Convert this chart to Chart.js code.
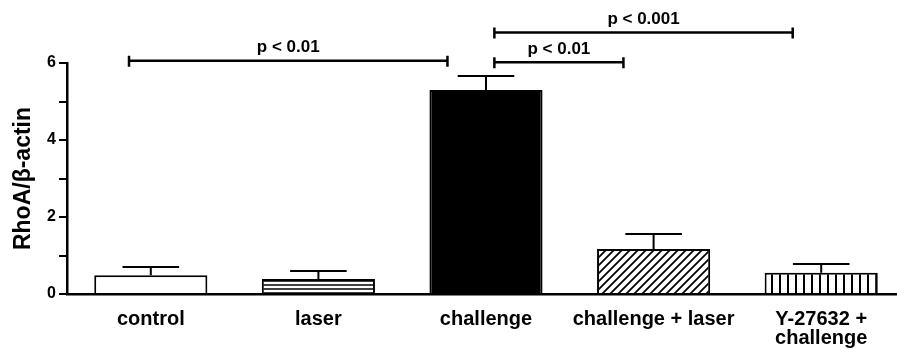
<!DOCTYPE html>
<html>
<head>
    <title>RhoA/β-actin</title>
    <style>
        body { margin: 0; padding: 0; overflow: hidden; background: #fff; }
        #chartBox { width: 907px; height: 350px; }
    </style>
    <script src="https://cdn.jsdelivr.net/npm/chart.js"></script>
</head>
<body>
    <div id="chartBox">
        <canvas id="rhoaChart" width="907" height="350"></canvas>
    </div>

    <script>
        const categories = ['control', 'laser', 'challenge', 'challenge + laser', ['Y-27632 +', 'challenge']];
        const meanValues = [0.49, 0.39, 5.30, 1.17, 0.55];
        const semValues = [0.21, 0.21, 0.36, 0.39, 0.23];

        // significance brackets (category index positions, y level in data units)
        const bracketFrom = [-0.13, 2.05, 2.05];
        const bracketTo = [1.77, 2.82, 3.83];
        const bracketLevel = [6.06, 6.02, 6.79];
        const bracketLabels = ['p < 0.01', 'p < 0.01', 'p < 0.001'];

        const fontFamily = "'Liberation Sans', Arial, sans-serif";

        function makePattern(kind) {
            const c = document.createElement('canvas');
            const size = kind === 'horizontal' ? 4 : 8;
            c.width = size;
            c.height = size;
            const g = c.getContext('2d');
            g.fillStyle = '#fff';
            g.fillRect(0, 0, size, size);
            g.strokeStyle = '#000';
            if (kind === 'horizontal') {
                g.lineWidth = 1.5;
                g.beginPath();
                g.moveTo(0, 1);
                g.lineTo(size, 1);
                g.stroke();
            } else if (kind === 'vertical') {
                g.lineWidth = 2;
                g.beginPath();
                g.moveTo(4, 0);
                g.lineTo(4, size);
                g.stroke();
            } else {
                g.lineWidth = 1.8;
                g.beginPath();
                g.moveTo(-1, size + 1);
                g.lineTo(size + 1, -1);
                g.moveTo(-1, 1);
                g.lineTo(1, -1);
                g.moveTo(size - 1, size + 1);
                g.lineTo(size + 1, size - 1);
                g.stroke();
            }
            return g.createPattern(c, 'repeat');
        }

        const barFills = ['#fff', makePattern('horizontal'), '#000', makePattern('diagonal'), makePattern('vertical')];

        const errorBarPlugin = {
            id: 'errorBars',
            afterDatasetsDraw(chart) {
                const ctx = chart.ctx;
                const yScale = chart.scales.y;
                const meta = chart.getDatasetMeta(0);
                ctx.save();
                ctx.strokeStyle = '#000';
                ctx.lineWidth = 2;
                meta.data.forEach((bar, i) => {
                    const yErr = yScale.getPixelForValue(meanValues[i] + semValues[i]);
                    const half = bar.width / 4;
                    ctx.beginPath();
                    ctx.moveTo(bar.x, bar.y);
                    ctx.lineTo(bar.x, yErr);
                    ctx.moveTo(bar.x - half, yErr);
                    ctx.lineTo(bar.x + half, yErr);
                    ctx.stroke();
                });
                ctx.restore();
            }
        };

        const bracketPlugin = {
            id: 'brackets',
            afterDraw(chart) {
                const ctx = chart.ctx;
                const xScale = chart.scales.x;
                const yScale = chart.scales.y;
                ctx.save();
                ctx.strokeStyle = '#000';
                ctx.fillStyle = '#000';
                ctx.lineWidth = 2.5;
                ctx.font = 'bold 17px ' + fontFamily;
                ctx.textAlign = 'center';
                ctx.textBaseline = 'middle';
                bracketLabels.forEach((label, i) => {
                    const x1 = xScale.getPixelForValue(bracketFrom[i]);
                    const x2 = xScale.getPixelForValue(bracketTo[i]);
                    const y = yScale.getPixelForValue(bracketLevel[i]);
                    ctx.beginPath();
                    ctx.moveTo(x1, y);
                    ctx.lineTo(x2, y);
                    ctx.moveTo(x1, y - 5);
                    ctx.lineTo(x1, y + 6);
                    ctx.moveTo(x2, y - 5);
                    ctx.lineTo(x2, y + 6);
                    ctx.stroke();
                    ctx.fillText(label, (x1 + x2) / 2, y - 13);
                });
                ctx.restore();
            }
        };

        new Chart(document.getElementById('rhoaChart').getContext('2d'), {
            type: 'bar',
            data: {
                labels: categories,
                datasets: [{
                    data: meanValues,
                    backgroundColor: barFills,
                    borderColor: '#000',
                    borderWidth: 2,
                    categoryPercentage: 1,
                    barPercentage: 0.675
                }]
            },
            options: {
                responsive: false,
                animation: false,
                layout: { padding: { top: 63, right: 2, left: 0, bottom: 0 } },
                plugins: {
                    legend: { display: false },
                    tooltip: { enabled: false }
                },
                scales: {
                    x: {
                        grid: { display: false },
                        border: { display: true, color: '#000', width: 2.5 },
                        ticks: {
                            color: '#000',
                            font: { family: fontFamily, size: 20, weight: 'bold', lineHeight: 0.95 },
                            padding: 8,
                            maxRotation: 0,
                            autoSkip: false
                        },
                        afterFit: s => { s.height = 56; }
                    },
                    y: {
                        min: 0,
                        max: 6,
                        grid: {
                            display: true,
                            drawOnChartArea: false,
                            drawTicks: true,
                            tickLength: 8,
                            color: '#000',
                            lineWidth: 2
                        },
                        border: { display: true, color: '#000', width: 2.5 },
                        ticks: {
                            stepSize: 1,
                            color: '#000',
                            padding: 3,
                            font: { family: fontFamily, size: 16, weight: 'bold' },
                            callback: v => (v % 2 === 0 ? v : '')
                        },
                        title: {
                            display: true,
                            text: 'RhoA/β-actin',
                            color: '#000',
                            font: { family: fontFamily, size: 23, weight: 'bold' },
                            padding: { top: 10, bottom: 0 }
                        },
                        afterFit: s => { s.width = 67; }
                    }
                }
            },
            plugins: [errorBarPlugin, bracketPlugin]
        });
    </script>
</body>
</html>
